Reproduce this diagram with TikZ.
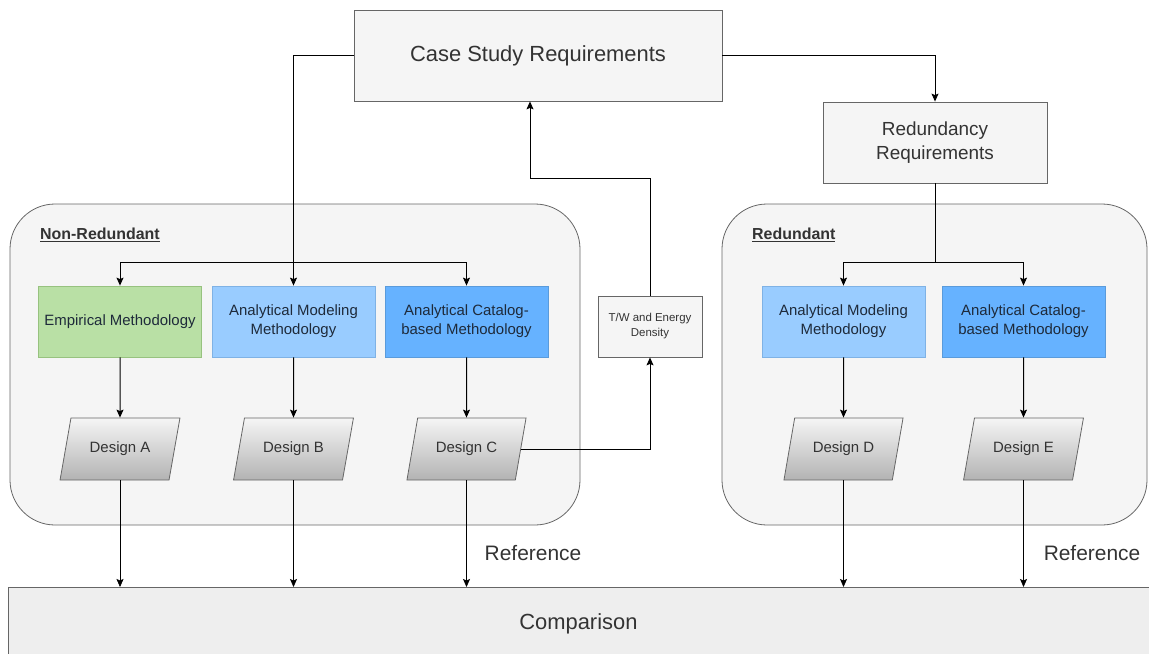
\documentclass[tikz,border=0pt]{standalone}
\usepackage{fontspec}
\setmainfont{Liberation Sans}
\usepackage{tikz}
\usetikzlibrary{arrows,arrows.meta,shapes}

\definecolor{grpfill}{HTML}{F5F5F5}
\definecolor{grpline}{HTML}{666666}
\definecolor{boxtext}{HTML}{333333}
\definecolor{empfill}{HTML}{B9E0A5}
\definecolor{empline}{HTML}{97C27F}
\definecolor{modfill}{HTML}{99CCFF}
\definecolor{modline}{HTML}{7FB2E5}
\definecolor{catfill}{HTML}{66B2FF}
\definecolor{catline}{HTML}{5A9BDB}
\definecolor{methtext}{HTML}{1E2A3A}
\definecolor{destop}{HTML}{F5F5F5}
\definecolor{desbot}{HTML}{B3B3B3}
\definecolor{cmpfill}{HTML}{EEEEEE}

\begin{document}
\begin{tikzpicture}[>={Stealth[length=8bp,width=7bp,inset=1.5bp]},
  grp/.style={draw=grpline, fill=grpfill, rounded corners=45bp, line width=0.8pt},
  box/.style={draw=grpline, fill=grpfill, text=boxtext, align=center, line width=0.8pt},
  method/.style={align=center, minimum width=163bp, minimum height=71bp, text=methtext, line width=0.8pt, font=\fontsize{15}{19}\selectfont},
  design/.style={draw=grpline, trapezium, trapezium left angle=70, trapezium right angle=110, trapezium stretches=true, minimum width=120bp, minimum height=62bp, top color=destop, bottom color=desbot, text=boxtext, line width=0.8pt, font=\fontsize{15}{19}\selectfont},
  lab/.style={anchor=west, inner sep=0pt, text=boxtext, font=\bfseries\fontsize{16}{19}\selectfont}]
\useasboundingbox (0bp,0bp) rectangle (1149bp,-654bp);

% requirements
\node (CSR) at (538bp,-55.5bp)[box, minimum width=368bp, minimum height=91bp, font=\fontsize{22}{26}\selectfont] {Case Study Requirements};
\node (RR) at (935bp,-142.5bp)[box, minimum width=224bp, minimum height=81bp, font=\fontsize{19}{24}\selectfont] {Redundancy\\Requirements};

% groups
\node (NR) at (295bp,-364.5bp)[grp, minimum width=570bp, minimum height=321bp] {};
\node (R) at (934.5bp,-364.5bp)[grp, minimum width=425bp, minimum height=321bp] {};
\node (NRlab) at (40bp,-235bp)[lab] {\underline{Non-Redundant}};
\node (Rlab) at (752bp,-235bp)[lab] {\underline{Redundant}};

% methodologies
\node (NRemp) at (120bp,-321.5bp)[method, fill=empfill, draw=empline] {Empirical Methodology};
\node (NRmod) at (293.5bp,-321.5bp)[method, fill=modfill, draw=modline] {Analytical Modeling\\Methodology};
\node (NRcat) at (466.5bp,-321.5bp)[method, fill=catfill, draw=catline] {Analytical Catalog-\\based Methodology};
\node (Rmod) at (843.5bp,-321.5bp)[method, fill=modfill, draw=modline] {Analytical Modeling\\Methodology};
\node (Rcat) at (1023.5bp,-321.5bp)[method, fill=catfill, draw=catline] {Analytical Catalog-\\based Methodology};
\node (TW) at (650bp,-326.5bp)[box, minimum width=104bp, minimum height=61bp, font=\fontsize{11.5}{15}\selectfont] {T/W and Energy\\Density};

% designs
\node (DA) at (120bp,-449bp)[design] {Design A};
\node (DB) at (293.5bp,-449bp)[design] {Design B};
\node (DC) at (466.5bp,-449bp)[design] {Design C};
\node (DD) at (843.5bp,-449bp)[design] {Design D};
\node (DE) at (1023.5bp,-449bp)[design] {Design E};

\node (CMP) at (8bp,-587bp)[box, anchor=north west, fill=cmpfill, minimum width=1180bp, minimum height=72bp, font=\fontsize{22}{26}\selectfont] {\hspace*{-40bp}Comparison};
\node (refC) at (533bp,-553bp)[text=boxtext, font=\fontsize{21}{25}\selectfont] {Reference};
\node (refE) at (1092bp,-553bp)[text=boxtext, font=\fontsize{21}{25}\selectfont] {Reference};

% connectors
\coordinate (NRfork) at (293.5bp,-262bp);
\coordinate (back) at (530bp,-178bp);
\draw [->,line width=1pt] (CSR.west) -| (NRmod.north);
\draw [->,line width=1pt] (NRfork) -| (NRemp.north);
\draw [->,line width=1pt] (NRfork) -| (NRcat.north);
\draw [->,line width=1pt] (CSR.east) -| (RR.north);
\draw [line width=1pt] (RR.south) -- (RR.south |- NRfork) coordinate (Rfork);
\draw [->,line width=1pt] (Rfork) -| (Rmod.north);
\draw [->,line width=1pt] (Rfork) -| (Rcat.north);
\draw [->,line width=1pt] (NRemp) -- (DA);
\draw [->,line width=1pt] (NRmod) -- (DB);
\draw [->,line width=1pt] (NRcat) -- (DC);
\draw [->,line width=1pt] (Rmod) -- (DD);
\draw [->,line width=1pt] (Rcat) -- (DE);
\draw [->,line width=1pt] (DC.east) -| (TW.south);
\draw [->,line width=1pt] (TW.north) |- (back) -- (back |- CSR.south);
\draw [->,line width=0.7pt] (DA.south) -- (DA.south |- CMP.north);
\draw [->,line width=0.7pt] (DB.south) -- (DB.south |- CMP.north);
\draw [->,line width=0.7pt] (DC.south) -- (DC.south |- CMP.north);
\draw [->,line width=0.7pt] (DD.south) -- (DD.south |- CMP.north);
\draw [->,line width=0.7pt] (DE.south) -- (DE.south |- CMP.north);
\end{tikzpicture}
\end{document}
